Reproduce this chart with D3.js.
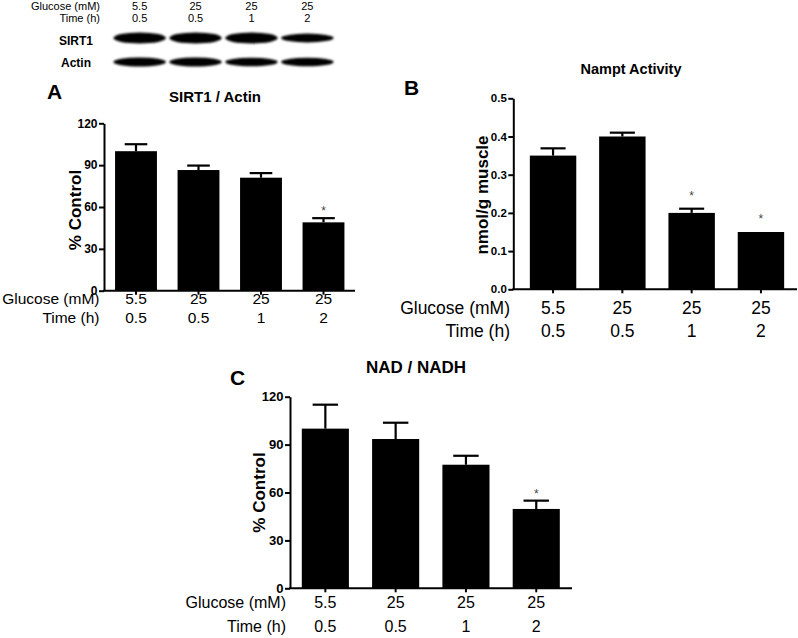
<!DOCTYPE html>
<meta charset="utf-8">
<title>SIRT1 / Nampt / NAD</title>
<style>
  body { margin: 0; background: #fff; }
  svg text { font-family: "Liberation Sans", Arial, sans-serif; fill: #000; }
</style>
<body>
<script src="https://d3js.org/d3.v7.min.js"></script>
<script type="text/javascript">

// ---- data ----
var glucose = ["5.5", "25", "25", "25"];
var timeH = ["0.5", "0.5", "1", "2"];

var sirt1Mean = [100, 86.5, 81, 49];
var sirt1Err  = [5, 3.2, 3.3, 3];
var sirt1Sig  = [false, false, false, true];

var namptMean = [0.35, 0.40, 0.20, 0.15];
var namptErr  = [0.019, 0.01, 0.011, 0];
var namptSig  = [false, false, true, true];

var nadMean = [100, 93.5, 77.4, 49.7];
var nadErr  = [15, 10.2, 5.6, 5.2];
var nadSig  = [false, false, false, true];

var pctTicks = [0, 30, 60, 90, 120];
var namptTicks = [0, 0.1, 0.2, 0.3, 0.4, 0.5];

// relative band strength on the blot (1 = full)
var sirt1Band = [1, 1, 1, 0.8];
var actinBand = [1, 1, 0.95, 0.95];

var svg = d3.select("body").append("svg")
    .attr("width", 798)
    .attr("height", 638);

// blur for the blot bands
svg.append("defs").append("filter")
    .attr("id", "blur")
    .attr("x", "-10%").attr("y", "-50%")
    .attr("width", "120%").attr("height", "200%")
  .append("feGaussianBlur")
    .attr("stdDeviation", 1.2);

// ---- western blot at the top ----
var lanes = d3.scaleBand().domain(d3.range(4)).range([110, 337]).padding(0.06);

svg.append("text").attr("x", 100).attr("y", 9.5).attr("text-anchor", "end")
  .style("font-size", "11px").text("Glucose (mM)");
svg.append("text").attr("x", 100).attr("y", 22).attr("text-anchor", "end")
  .style("font-size", "11px").text("Time (h)");

svg.selectAll(".blotGlu").data(glucose).enter().append("text")
  .attr("x", function(d, i) { return lanes(i) + lanes.bandwidth() / 2; })
  .attr("y", 9.5).attr("text-anchor", "middle")
  .style("font-size", "11px").text(function(d) { return d; });
svg.selectAll(".blotTime").data(timeH).enter().append("text")
  .attr("x", function(d, i) { return lanes(i) + lanes.bandwidth() / 2; })
  .attr("y", 22).attr("text-anchor", "middle")
  .style("font-size", "11px").text(function(d) { return d; });

svg.append("text").attr("x", 76).attr("y", 45).attr("text-anchor", "middle")
  .style("font-size", "12px").style("font-weight", "bold").text("SIRT1");
svg.append("text").attr("x", 76).attr("y", 67).attr("text-anchor", "middle")
  .style("font-size", "12px").style("font-weight", "bold").text("Actin");

function blotRow(strength, cy, h) {
  svg.append("g").attr("filter", "url(#blur)")
    .selectAll("rect").data(strength).enter().append("rect")
    .attr("x", function(d, i) { return lanes(i); })
    .attr("width", lanes.bandwidth())
    .attr("y", function(d) { return cy - h * d / 2; })
    .attr("height", function(d) { return h * d; })
    .attr("rx", function(d) { return lanes.bandwidth() / 2; })
    .attr("ry", function(d) { return h * d / 2; })
    .style("fill", "#000");
}
blotRow(sirt1Band, 38, 11);
blotRow(actinBand, 62, 9);

// ---- bar chart panels ----
function drawPanel(p) {
  var g = svg.append("g");

  var x = d3.scaleBand().domain(d3.range(4)).range(p.xRange)
      .paddingInner(0.33).paddingOuter(0.165);
  var y = d3.scaleLinear().domain([0, p.ticks[p.ticks.length - 1]]).range(p.yRange);
  var bw = x.bandwidth();
  var cx = function(i) { return x(i) + bw / 2; };

  // bars
  g.selectAll(".bar").data(p.mean).enter().append("rect")
    .attr("x", function(d, i) { return x(i); })
    .attr("y", function(d) { return y(d); })
    .attr("width", bw)
    .attr("height", function(d) { return y(0) - y(d); })
    .style("fill", "#000");

  // error bars (upper only)
  p.mean.forEach(function(m, i) {
    if (!p.err[i]) return;
    var top = y(m + p.err[i]);
    g.append("line").attr("x1", cx(i)).attr("x2", cx(i))
      .attr("y1", y(m)).attr("y2", top)
      .style("stroke", "#000").style("stroke-width", 2.2);
    g.append("line").attr("x1", cx(i) - bw * 0.27).attr("x2", cx(i) + bw * 0.27)
      .attr("y1", top).attr("y2", top)
      .style("stroke", "#000").style("stroke-width", 2.2);
  });

  // significance stars
  p.mean.forEach(function(m, i) {
    if (!p.sig[i]) return;
    g.append("text")
      .attr("x", cx(i))
      .attr("y", y(m + p.err[i]) - p.starGap + 7)
      .attr("text-anchor", "middle")
      .style("font-size", "12px")
      .style("fill", "#444")
      .text("*");
  });

  // y axis
  var yAxis = d3.axisLeft(y).tickValues(p.ticks).tickSize(5).tickSizeOuter(0)
      .tickFormat(p.fmt);
  var ya = g.append("g").attr("transform", "translate(" + p.axisX + ",0)").call(yAxis);
  ya.select(".domain").style("stroke-width", 2);
  ya.selectAll(".tick line").style("stroke-width", 2);
  ya.selectAll(".tick text")
    .style("font-size", p.tickFont).style("font-weight", "bold")
    .style("font-family", "'Liberation Sans', Arial, sans-serif")
    .attr("x", -6.5);

  // x axis line + ticks
  g.append("line").attr("x1", p.axisX - 1).attr("x2", p.xEnd)
    .attr("y1", y(0)).attr("y2", y(0))
    .style("stroke", "#000").style("stroke-width", 2);
  g.selectAll(".xt").data(p.mean).enter().append("line")
    .attr("x1", function(d, i) { return cx(i); })
    .attr("x2", function(d, i) { return cx(i); })
    .attr("y1", y(0)).attr("y2", y(0) + 4)
    .style("stroke", "#000").style("stroke-width", 2);

  // category rows
  g.append("text").attr("x", p.labelRight).attr("y", p.row1)
    .attr("text-anchor", "end").style("font-size", p.catFont).text("Glucose (mM)");
  g.append("text").attr("x", p.labelRight).attr("y", p.row2)
    .attr("text-anchor", "end").style("font-size", p.catFont).text("Time (h)");
  g.selectAll(".glu").data(glucose).enter().append("text")
    .attr("x", function(d, i) { return cx(i); }).attr("y", p.row1)
    .attr("text-anchor", "middle").style("font-size", p.catFont)
    .text(function(d) { return d; });
  g.selectAll(".tim").data(timeH).enter().append("text")
    .attr("x", function(d, i) { return cx(i); }).attr("y", p.row2)
    .attr("text-anchor", "middle").style("font-size", p.catFont)
    .text(function(d) { return d; });

  // y title
  g.append("text")
    .attr("transform", "translate(" + p.yTitle[0] + "," + p.yTitle[1] + ") rotate(-90)")
    .attr("text-anchor", "middle").attr("dy", "0.35em")
    .style("font-size", "17px").style("font-weight", "bold")
    .text(p.yLabel);

  // chart title and panel letter
  g.append("text").attr("x", p.title[0]).attr("y", p.title[1])
    .attr("text-anchor", "middle").style("font-size", p.titleFont)
    .style("font-weight", "bold").text(p.titleText);
  g.append("text").attr("x", p.letter[0]).attr("y", p.letter[1])
    .style("font-size", "21px").style("font-weight", "bold").text(p.letterText);
}

drawPanel({
  mean: sirt1Mean, err: sirt1Err, sig: sirt1Sig, ticks: pctTicks,
  fmt: d3.format("d"),
  xRange: [104.75, 354.75], yRange: [290.7, 123.3], axisX: 104, xEnd: 355,
  tickFont: "12px", catFont: "15.5px", labelRight: 99.5, row1: 304, row2: 323,
  yTitle: [75, 210], yLabel: "% Control", starGap: 10,
  title: [215, 101.5], titleFont: "15px", titleText: "SIRT1 / Actin",
  letter: [47, 98.5], letterText: "A"
});

drawPanel({
  mean: namptMean, err: namptErr, sig: namptSig, ticks: namptTicks,
  fmt: d3.format(".1f"),
  xRange: [518.4, 795.6], yRange: [289.3, 98.3], axisX: 513.3, xEnd: 797,
  tickFont: "11.5px", catFont: "17.5px", labelRight: 510, row1: 314, row2: 336.5,
  yTitle: [482.5, 195], yLabel: "nmol/g muscle", starGap: 16,
  title: [631, 73.5], titleFont: "14.5px", titleText: "Nampt Activity",
  letter: [404, 94.5], letterText: "B"
});

drawPanel({
  mean: nadMean, err: nadErr, sig: nadSig, ticks: pctTicks,
  fmt: d3.format("d"),
  xRange: [290.2, 571.4], yRange: [588.3, 396.7], axisX: 290, xEnd: 572,
  tickFont: "13px", catFont: "16px", labelRight: 286, row1: 608, row2: 632,
  yTitle: [258.7, 492.5], yLabel: "% Control", starGap: 10,
  title: [416, 373], titleFont: "17px", titleText: "NAD / NADH",
  letter: [230, 384.5], letterText: "C"
});

</script>
